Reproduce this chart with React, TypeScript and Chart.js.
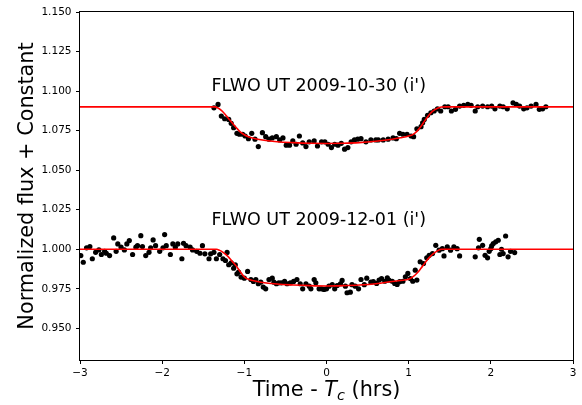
import { useEffect, useRef } from "react";
import { Chart, registerables } from "chart.js";

Chart.register(...registerables);

const xTicks = [-3, -2, -1, 0, 1, 2, 3];
const yTicks = [0.95, 0.975, 1.0, 1.025, 1.05, 1.075, 1.1, 1.125, 1.15];
const yMin = 0.93;
const yMax = 1.15;

const labelUpper = "FLWO UT 2009-10-30 (i')";
const labelLower = "FLWO UT 2009-12-01 (i')";
const labelUpperPos = [-1.4, 1.1003];
const labelLowerPos = [-1.4, 1.0155];

const upperX = [-1.37, -1.32, -1.28, -1.24, -1.19, -1.16, -1.13, -1.09, -1.06, -1.02, -0.99, -0.95, -0.91, -0.87, -0.83, -0.78, -0.74, -0.70, -0.66, -0.61, -0.57, -0.53, -0.49, -0.45, -0.41, -0.37, -0.33, -0.29, -0.25, -0.21, -0.15, -0.11, -0.06, -0.02, 0.02, 0.06, 0.10, 0.14, 0.18, 0.22, 0.26, 0.30, 0.34, 0.38, 0.42, 0.48, 0.54, 0.60, 0.63, 0.69, 0.75, 0.81, 0.85, 0.89, 0.93, 0.98, 1.03, 1.06, 1.10, 1.15, 1.17, 1.19, 1.23, 1.27, 1.31, 1.35, 1.39, 1.44, 1.48, 1.52, 1.57, 1.62, 1.67, 1.72, 1.76, 1.81, 1.84, 1.90, 1.96, 2.01, 2.05, 2.11, 2.15, 2.20, 2.27, 2.31, 2.35, 2.40, 2.44, 2.49, 2.55, 2.59, 2.63, 2.67];
const upperY = [1.0894, 1.0916, 1.0842, 1.0825, 1.0821, 1.0796, 1.0769, 1.0733, 1.0727, 1.0727, 1.0716, 1.0699, 1.0733, 1.0696, 1.0649, 1.0737, 1.0712, 1.0696, 1.0704, 1.0712, 1.0691, 1.0704, 1.0658, 1.0658, 1.0685, 1.0664, 1.0716, 1.0672, 1.0649, 1.0679, 1.0685, 1.0653, 1.0679, 1.0679, 1.0664, 1.0643, 1.0664, 1.0658, 1.0670, 1.0633, 1.0643, 1.0679, 1.0691, 1.0696, 1.0699, 1.0679, 1.0691, 1.0691, 1.0691, 1.0691, 1.0696, 1.0704, 1.0699, 1.0733, 1.0727, 1.0727, 1.0716, 1.0712, 1.0762, 1.0775, 1.0800, 1.0821, 1.0847, 1.0863, 1.0874, 1.0888, 1.0874, 1.0901, 1.0901, 1.0874, 1.0885, 1.0905, 1.0910, 1.0916, 1.0910, 1.0874, 1.0901, 1.0905, 1.0901, 1.0905, 1.0888, 1.0905, 1.0901, 1.0888, 1.0926, 1.0916, 1.0905, 1.0888, 1.0894, 1.0905, 1.0916, 1.0885, 1.0888, 1.0901];

const lowerX = [-2.99, -2.96, -2.92, -2.88, -2.85, -2.81, -2.77, -2.74, -2.70, -2.68, -2.64, -2.59, -2.56, -2.54, -2.50, -2.46, -2.43, -2.40, -2.36, -2.32, -2.30, -2.26, -2.24, -2.20, -2.16, -2.14, -2.11, -2.08, -2.03, -1.99, -1.97, -1.95, -1.90, -1.87, -1.84, -1.81, -1.76, -1.74, -1.71, -1.66, -1.63, -1.58, -1.54, -1.51, -1.48, -1.43, -1.41, -1.37, -1.34, -1.30, -1.26, -1.23, -1.21, -1.19, -1.16, -1.13, -1.11, -1.09, -1.07, -1.04, -1.00, -0.96, -0.92, -0.89, -0.86, -0.83, -0.80, -0.77, -0.74, -0.70, -0.66, -0.64, -0.61, -0.58, -0.55, -0.51, -0.48, -0.44, -0.40, -0.36, -0.32, -0.29, -0.25, -0.21, -0.19, -0.15, -0.13, -0.09, -0.06, -0.03, 0.00, 0.03, 0.07, 0.10, 0.13, 0.17, 0.19, 0.23, 0.25, 0.29, 0.31, 0.35, 0.39, 0.42, 0.46, 0.49, 0.54, 0.57, 0.61, 0.64, 0.67, 0.71, 0.74, 0.76, 0.80, 0.83, 0.86, 0.89, 0.93, 0.96, 0.99, 1.02, 1.05, 1.08, 1.10, 1.14, 1.18, 1.22, 1.25, 1.29, 1.33, 1.37, 1.41, 1.43, 1.47, 1.51, 1.55, 1.59, 1.62, 1.81, 1.85, 1.86, 1.90, 1.93, 1.96, 1.98, 2.00, 2.01, 2.03, 2.06, 2.09, 2.11, 2.13, 2.15, 2.18, 2.21, 2.24, 2.29];
const lowerY = [0.9960, 0.9918, 1.0009, 1.0017, 0.9940, 0.9981, 0.9996, 0.9967, 0.9987, 0.9975, 0.9960, 1.0072, 0.9987, 1.0034, 1.0013, 0.9996, 1.0034, 1.0055, 0.9967, 1.0013, 1.0023, 1.0086, 1.0017, 0.9960, 0.9981, 1.0009, 1.0059, 1.0023, 0.9987, 1.0009, 1.0093, 1.0023, 0.9967, 1.0034, 1.0013, 1.0034, 0.9940, 1.0038, 1.0023, 1.0013, 0.9996, 0.9987, 0.9975, 1.0023, 0.9971, 0.9940, 0.9971, 0.9981, 0.9940, 0.9967, 0.9940, 0.9929, 0.9980, 0.9902, 0.9914, 0.9880, 0.9902, 0.9845, 0.9855, 0.9824, 0.9817, 0.9860, 0.9809, 0.9797, 0.9809, 0.9782, 0.9792, 0.9761, 0.9750, 0.9809, 0.9817, 0.9792, 0.9782, 0.9788, 0.9788, 0.9797, 0.9782, 0.9788, 0.9797, 0.9809, 0.9782, 0.9750, 0.9782, 0.9767, 0.9750, 0.9809, 0.9788, 0.9750, 0.9750, 0.9746, 0.9750, 0.9767, 0.9776, 0.9750, 0.9771, 0.9782, 0.9803, 0.9767, 0.9725, 0.9729, 0.9776, 0.9767, 0.9750, 0.9809, 0.9776, 0.9817, 0.9792, 0.9795, 0.9784, 0.9805, 0.9815, 0.9798, 0.9820, 0.9805, 0.9798, 0.9784, 0.9778, 0.9795, 0.9798, 0.9826, 0.9847, 0.9815, 0.9798, 0.9868, 0.9805, 0.9921, 0.9910, 0.9946, 0.9962, 0.9973, 1.0025, 0.9994, 1.0004, 0.9958, 1.0015, 0.9994, 1.0015, 1.0004, 0.9958, 0.9952, 1.0009, 1.0063, 1.0025, 0.9962, 0.9946, 0.9987, 1.0004, 1.0021, 1.0036, 1.0047, 1.0057, 0.9967, 1.0000, 0.9973, 1.0084, 0.9952, 0.9987, 0.9979];

const modelUpperX = [-3, -1.36, -1.32, -1.28, -1.24, -1.20, -1.15, -1.10, -1.05, -1.00, -0.95, -0.90, -0.80, -0.60, -0.40, -0.20, 0.00, 0.20, 0.40, 0.60, 0.80, 0.90, 1.00, 1.05, 1.10, 1.15, 1.20, 1.25, 1.30, 1.35, 1.40, 1.45, 3];
const modelUpperY = [1.090, 1.090, 1.0893, 1.0878, 1.0857, 1.0832, 1.0800, 1.0770, 1.0742, 1.0724, 1.0712, 1.0703, 1.0692, 1.0680, 1.0674, 1.0670, 1.0669, 1.0670, 1.0674, 1.0683, 1.0696, 1.0705, 1.0716, 1.0725, 1.0745, 1.0778, 1.0815, 1.0850, 1.0876, 1.0892, 1.0899, 1.0900, 1.090];
const modelLowerX = [-3, -1.34, -1.30, -1.25, -1.20, -1.15, -1.10, -1.05, -1.00, -0.95, -0.90, -0.80, -0.60, -0.40, -0.20, 0.00, 0.20, 0.40, 0.60, 0.80, 0.90, 1.00, 1.05, 1.10, 1.15, 1.20, 1.25, 1.30, 1.35, 1.40, 3];
const modelLowerY = [1.000, 1.000, 0.9993, 0.9977, 0.9955, 0.9925, 0.9895, 0.9858, 0.9825, 0.9810, 0.9802, 0.9792, 0.9780, 0.9774, 0.9770, 0.9768, 0.9770, 0.9774, 0.9782, 0.9796, 0.9803, 0.9810, 0.9825, 0.9848, 0.9880, 0.9915, 0.9947, 0.9972, 0.9990, 1.000, 1.000];

const toPts = (xs: number[], ys: number[]) => xs.map((x, i) => ({ x, y: ys[i] }));

const FONT = "'DejaVu Sans', sans-serif";

const decor = {
  id: "decor",
  afterDraw(chart: any) {
    const { ctx, chartArea: a, scales } = chart;
    const xs = scales.x;
    const ys = scales.y;
    ctx.save();
    ctx.strokeStyle = "#000";
    ctx.lineWidth = 1;
    ctx.strokeRect(Math.round(a.left) - 0.5, Math.round(a.top) - 0.5, Math.round(a.right - a.left) + 1, Math.round(a.bottom - a.top) + 1);
    ctx.fillStyle = "#000";
    ctx.font = `17.5px ${FONT}`;
    ctx.textAlign = "left";
    ctx.textBaseline = "alphabetic";
    ctx.fillText(labelUpper, xs.getPixelForValue(labelUpperPos[0]), ys.getPixelForValue(labelUpperPos[1]));
    ctx.fillText(labelLower, xs.getPixelForValue(labelLowerPos[0]), ys.getPixelForValue(labelLowerPos[1]));
    ctx.font = `20.8px ${FONT}`;
    ctx.save();
    ctx.translate(33, (a.top + a.bottom) / 2);
    ctx.rotate(-Math.PI / 2);
    ctx.textAlign = "center";
    ctx.fillText("Normalized flux + Constant", 0, 0);
    ctx.restore();
    const big = `20.8px ${FONT}`;
    const ital = `italic 20.8px ${FONT}`;
    const italSmall = `italic 14.5px ${FONT}`;
    const parts: [string, string, number][] = [
      ["Time - ", big, 0],
      ["T", ital, 0],
      ["c", italSmall, 4],
      [" (hrs)", big, 0],
    ];
    let total = 0;
    for (const [t, f] of parts) { ctx.font = f; total += ctx.measureText(t).width; }
    let cx = (a.left + a.right) / 2 - total / 2;
    const base = 396;
    ctx.textAlign = "left";
    for (const [t, f, dy] of parts) {
      ctx.font = f;
      ctx.fillText(t, cx, base + dy);
      cx += ctx.measureText(t).width;
    }
    ctx.restore();
  },
};

export default function App() {
  const ref = useRef<HTMLCanvasElement | null>(null);
  useEffect(() => {
    if (!ref.current) return;
    Chart.defaults.font.family = FONT;
    const chart = new Chart(ref.current, {
      type: "scatter",
      data: {
        datasets: [
          { data: toPts(modelUpperX, modelUpperY), showLine: true, borderColor: "#ff0000", borderWidth: 1.6, pointRadius: 0, cubicInterpolationMode: "monotone" } as any,
          { data: toPts(modelLowerX, modelLowerY), showLine: true, borderColor: "#ff0000", borderWidth: 1.6, pointRadius: 0, cubicInterpolationMode: "monotone" } as any,
          { data: toPts(upperX, upperY), backgroundColor: "#000", borderWidth: 0, pointRadius: 2.6 },
          { data: toPts(lowerX, lowerY), backgroundColor: "#000", borderWidth: 0, pointRadius: 2.6 },
        ],
      },
      options: {
        animation: false,
        responsive: true,
        maintainAspectRatio: false,
        layout: { padding: { top: 12, right: 9, left: 0, bottom: 0 } },
        plugins: { legend: { display: false }, tooltip: { enabled: false } },
        scales: {
          x: {
            type: "linear",
            min: -3,
            max: 3,
            afterBuildTicks: (s: any) => { s.ticks = xTicks.map((v) => ({ value: v })); },
            afterFit: (s: any) => { s.height = 45; },
            grid: { display: true, drawOnChartArea: false, drawTicks: true, tickLength: 4, tickColor: "#000", color: "#000" },
            border: { display: false },
            ticks: {
              color: "#000",
              font: { size: 10.5, family: FONT },
              padding: 3,
              maxRotation: 0,
              callback: (v: any) => (Number(v) < 0 ? "\u2212" + Math.abs(Number(v)) : String(v)),
            },
          },
          y: {
            type: "linear",
            min: yMin,
            max: yMax,
            afterBuildTicks: (s: any) => { s.ticks = yTicks.map((v) => ({ value: v })); },
            afterFit: (s: any) => { s.width = 80; },
            grid: { display: true, drawOnChartArea: false, drawTicks: true, tickLength: 4, tickColor: "#000", color: "#000" },
            border: { display: false },
            ticks: {
              color: "#000",
              font: { size: 10.5, family: FONT },
              padding: 4.5,
              callback: (v: any) => Number(v).toFixed(3),
            },
          },
        },
      },
      plugins: [decor],
    });
    return () => chart.destroy();
  }, []);
  return (
    <div style={{ position: "absolute", left: 0, top: 0, width: 582, height: 405, background: "#fff" }}>
      <canvas ref={ref} />
    </div>
  );
}
